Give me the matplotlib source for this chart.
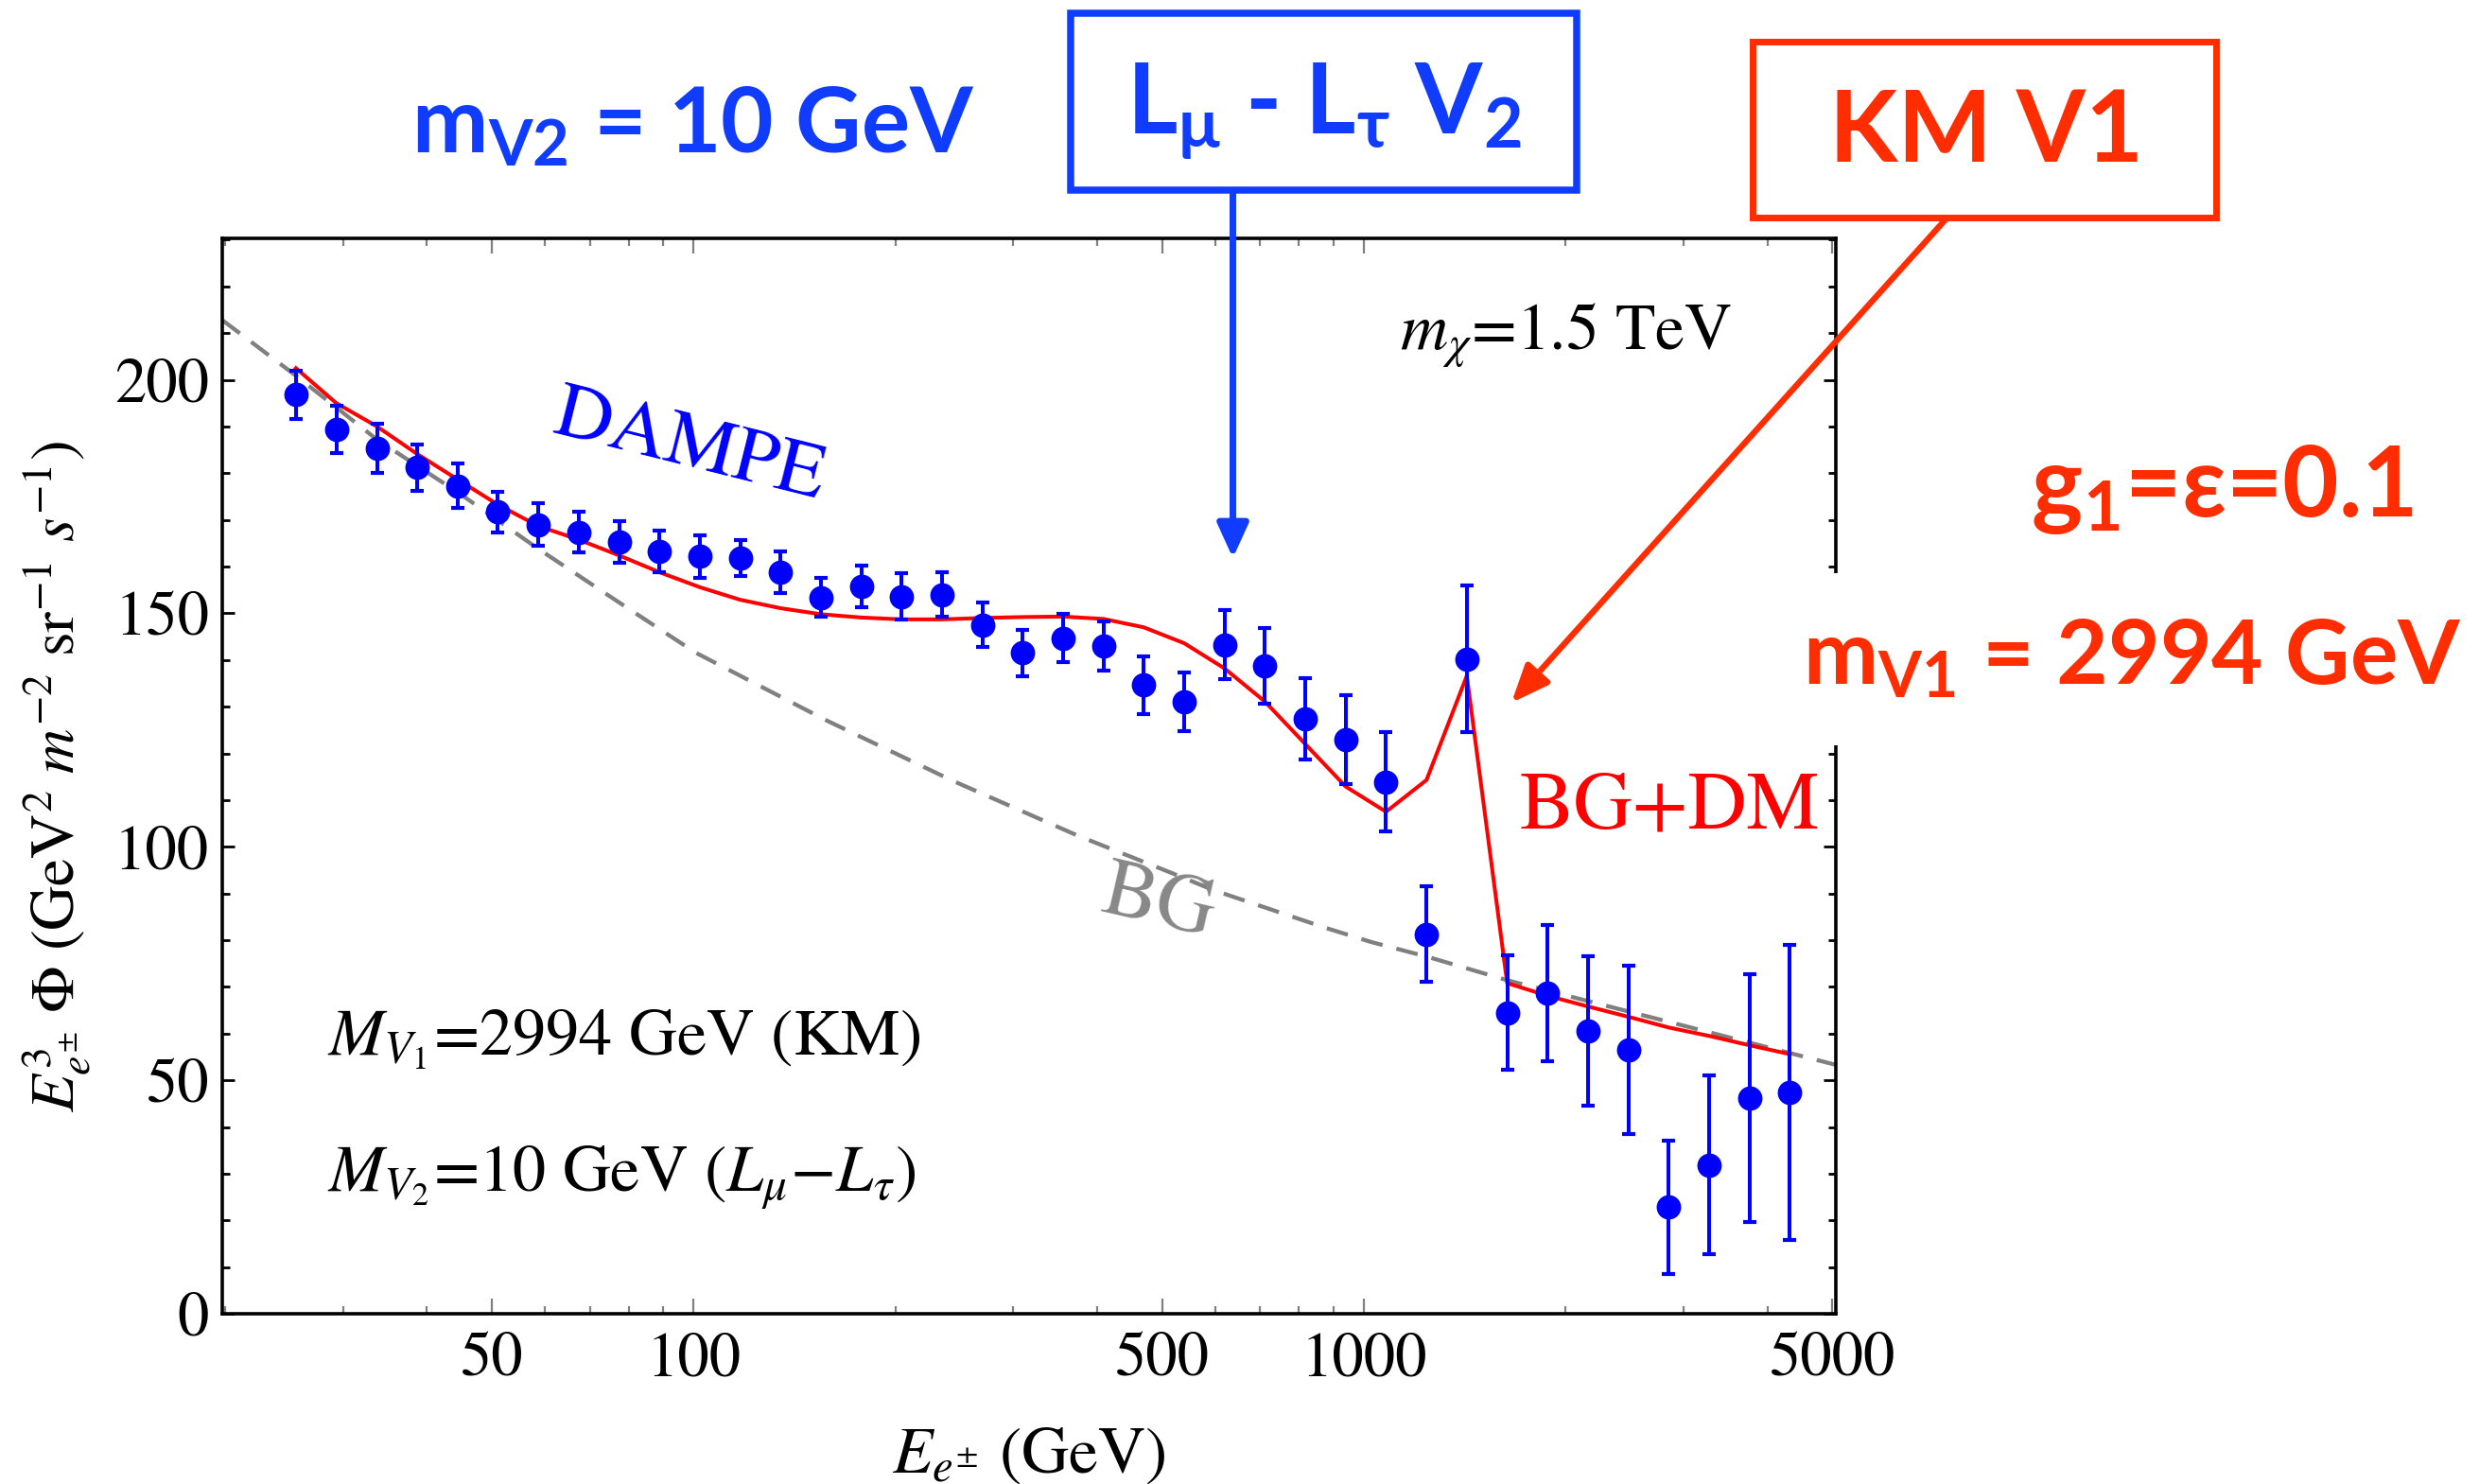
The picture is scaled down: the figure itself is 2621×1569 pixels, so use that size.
import matplotlib
matplotlib.use("Agg")
import matplotlib.pyplot as plt
from matplotlib.patches import Rectangle, FancyArrowPatch
from matplotlib.ticker import FixedLocator, FixedFormatter, NullFormatter, MultipleLocator

# ---------------- data ----------------
energy = [25.5, 29.3, 33.7, 38.7, 44.4, 51.0, 58.6, 67.3, 77.4, 88.9,
          102.1, 117.3, 134.7, 154.8, 177.8, 204.3, 234.6, 269.6, 309.6, 355.7,
          408.6, 469.4, 539.3, 619.5, 711.7, 817.6, 939.2, 1079, 1240, 1424,
          1636, 1879, 2159, 2480, 2849, 3273, 3760, 4319]
flux = [196.8, 189.4, 185.3, 181.2, 177.3, 171.7, 169.0, 167.4, 165.3, 163.3,
        162.2, 161.8, 158.8, 153.4, 155.8, 153.6, 154.0, 147.5, 141.5, 144.7,
        143.0, 134.6, 131.0, 143.3, 138.7, 127.4, 123.0, 113.9, 81.3, 140.2,
        64.5, 68.7, 60.6, 56.5, 22.8, 31.9, 46.2, 47.4]
flux_err = [5.2, 5.0, 5.2, 4.9, 4.7, 4.4, 4.5, 4.3, 4.5, 4.4,
            4.6, 3.8, 4.4, 4.2, 4.4, 4.9, 4.7, 4.8, 5.0, 5.1,
            5.2, 6.1, 6.3, 7.4, 8.1, 8.8, 9.5, 10.6, 10.3, 15.7,
            12.2, 14.6, 16.0, 18.1, 14.2, 19.2, 26.5, 31.5]
model_flux = [202.5, 195.0, 190.0, 184.1, 178.7, 173.3, 168.7, 165.8, 162.4, 158.8,
              155.6, 152.9, 151.1, 149.8, 149.1, 148.7, 148.7, 149.0, 149.2, 149.3,
              148.8, 147.0, 143.6, 138.2, 131.1, 122.0, 112.9, 107.5, 114.3, 136.6,
              70.8, 68.1, 65.8, 63.6, 61.3, 59.5, 57.5, 55.6]
bg_energy = [19.8, 25.6, 33.7, 44.7, 58.5, 76.7, 100.6, 157.6, 243, 374,
             518.5, 597, 874, 1026, 1247, 1638, 5060]
bg_flux = [212.8, 200.7, 187.2, 175.7, 163.9, 152.7, 141.6, 127.1, 114.2, 102.4,
           94.3, 90.7, 82.7, 79.6, 76.4, 71.4, 53.3]

x_major = [50, 100, 500, 1000, 5000]
x_major_labels = ["50", "100", "500", "1000", "5000"]
x_minor = [20, 30, 40, 60, 70, 80, 90, 200, 300, 400, 600, 700, 800, 900,
           2000, 3000, 4000]
y_major = [0, 50, 100, 150, 200]
y_major_labels = ["0", "50", "100", "150", "200"]

# ---------------- style ----------------
W, H, DPI = 2621, 1569, 200
plt.rcParams["font.family"] = ["STIXGeneral", "DejaVu Serif"]
plt.rcParams["mathtext.fontset"] = "stix"
plt.rcParams["mathtext.rm"] = "Lato:bold"
plt.rcParams["mathtext.it"] = "Lato:bold"
plt.rcParams["mathtext.bf"] = "Lato:bold"
plt.rcParams["mathtext.sf"] = "Lato:bold"

BLUE_ANN = "#0f3cff"
RED_ANN = "#ff2d00"
DATA_BLUE = "#0000ff"


def fx(x):
    return x / W


def fy(y):
    return 1 - y / H


fig = plt.figure(figsize=(W / DPI, H / DPI), dpi=DPI)
ax = fig.add_axes([fx(235), fy(1389), (1941 - 235) / W, (1389 - 252) / H])

ax.set_xscale("log")
ax.set_xlim(19.8, 5060)
ax.set_ylim(0, 230.3)

ax.plot(bg_energy, bg_flux, color="#808080", lw=1.55, dashes=(5.4, 3.5), zorder=2)
ax.plot(energy, model_flux, color="#ff0000", lw=1.45, zorder=3)
ax.errorbar(energy, flux, yerr=flux_err, fmt="o", color=DATA_BLUE, ms=8.3,
            elinewidth=1.45, capsize=2.5, capthick=1.5, zorder=4)

# ticks
ax.xaxis.set_major_locator(FixedLocator(x_major))
ax.xaxis.set_major_formatter(FixedFormatter(x_major_labels))
ax.xaxis.set_minor_locator(FixedLocator(x_minor))
ax.xaxis.set_minor_formatter(NullFormatter())
ax.yaxis.set_major_locator(FixedLocator(y_major))
ax.yaxis.set_major_formatter(FixedFormatter(y_major_labels))
ax.yaxis.set_minor_locator(MultipleLocator(10))
ax.tick_params(axis="both", which="both", direction="in", top=True, right=True)
ax.tick_params(axis="x", which="major", length=5.8, width=0.8, color="#808080",
               labelsize=24, pad=7)
ax.tick_params(axis="x", which="minor", length=3.0, width=0.8, color="#808080")
ax.tick_params(axis="y", which="major", length=4.7, width=1.0, color="black",
               labelsize=24, pad=5)
ax.tick_params(axis="y", which="minor", length=2.9, width=1.0, color="black")
for s in ax.spines.values():
    s.set_linewidth(1.3)

ax.set_xlabel(r"$E_{e^{\pm}}$ (GeV)", fontsize=25, labelpad=14)
ax.set_ylabel(r"$E^3_{e^{\pm}}\ \Phi\ (\mathrm{GeV}^2\ m^{-2}\ \mathrm{sr}^{-1}\ s^{-1})$",
              fontsize=23.5, labelpad=8)

# texts inside the frame
fig.text(fx(1480), fy(370), r"$m_\chi$=1.5 TeV", fontsize=25, ha="left", va="baseline")
fig.text(fx(729), fy(474), "DAMPE", fontsize=30, color="#0000ff", rotation=-14,
         rotation_mode="anchor", ha="center", va="center")
fig.text(fx(1225), fy(957), "BG", fontsize=31, color="#888888", rotation=-13,
         rotation_mode="anchor", ha="center", va="center")
fig.text(fx(1607), fy(875), "BG+DM", fontsize=31, color="#ff0000", ha="left", va="baseline")
fig.text(fx(346), fy(1115), r"$M_{V_1}$=2994 GeV (KM)", fontsize=25.3, ha="left", va="baseline")
fig.text(fx(346), fy(1260), r"$M_{V_2}$=10 GeV ($L_\mu$$-$$L_\tau$)", fontsize=25.3,
         ha="left", va="baseline")

# bold annotations around the chart
bold = dict(fontfamily=["Lato", "DejaVu Sans"], fontweight="bold", math_fontfamily="custom",
            ha="center", va="baseline")
fig.text(fx(733), fy(161), r"m$_{\mathrm{V2}}$ = 10 GeV", fontsize=34.5, color=BLUE_ANN, **bold)
fig.text(fx(1400), fy(142), r"L$_{\mathrm{μ}}$ - L$_{\mathrm{τ}}$ V$_{\mathrm{2}}$",
         fontsize=37, color=BLUE_ANN, **bold)
fig.text(fx(2100), fy(171), "KM V1", fontsize=38, color=RED_ANN, **bold)
fig.text(fx(2349), fy(546), r"g$_{\mathrm{1}}$=ε=0.1", fontsize=37, color=RED_ANN, **bold)
fig.text(fx(2254), fy(724), r"m$_{\mathrm{V1}}$ = 2994 GeV", fontsize=34, color=RED_ANN,
         bbox=dict(facecolor="white", edgecolor="none", boxstyle="square,pad=0.5"), **bold)

# boxes
fig.add_artist(Rectangle((fx(1132), fy(201)), (1667 - 1132) / W, (201 - 14) / H,
                         transform=fig.transFigure, fill=False, edgecolor=BLUE_ANN, lw=2.7))
fig.add_artist(Rectangle((fx(1853), fy(230)), (2343 - 1853) / W, (230 - 44) / H,
                         transform=fig.transFigure, fill=False, edgecolor=RED_ANN, lw=2.5))

# arrows
fig.add_artist(FancyArrowPatch((fx(1303.5), fy(203)), (fx(1303.5), fy(590)),
                               transform=fig.transFigure, arrowstyle="-|>,head_length=11,head_width=5",
                               mutation_scale=1, color=BLUE_ANN, lw=2.5, shrinkA=0, shrinkB=0))
fig.add_artist(FancyArrowPatch((fx(2057), fy(232)), (fx(1598), fy(743)),
                               transform=fig.transFigure, arrowstyle="-|>,head_length=12,head_width=5",
                               mutation_scale=1, color=RED_ANN, lw=2.3, shrinkA=0, shrinkB=0))

fig.savefig("out.png", dpi=DPI, facecolor="white")
